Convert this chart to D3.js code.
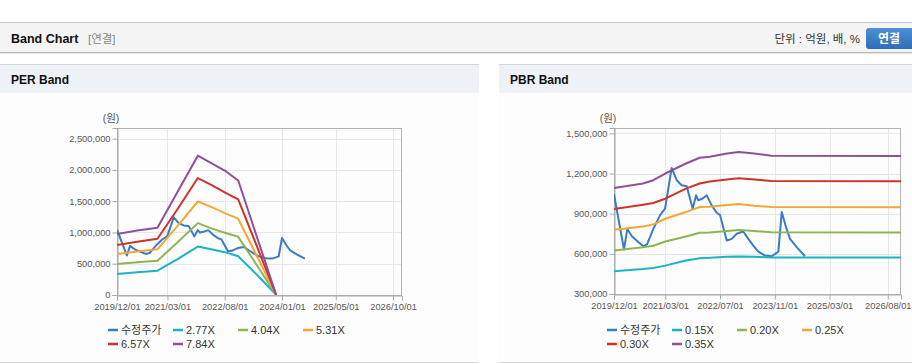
<!DOCTYPE html>
<html>
<head>
<meta charset="utf-8">
<script src="https://cdn.jsdelivr.net/npm/d3@7/dist/d3.min.js"></script>
<style>
  body { margin: 0; background: #fff; }
  svg { display: block; font-family: "Liberation Sans", Arial, "Noto Sans CJK KR", sans-serif; }
</style>
</head>
<body>
<div id="chart"></div>
<script>
// Adjusted price (shared by both charts)
var priceDates = ["2019-12-01", "2020-02-28", "2020-03-28", "2020-05-10", "2020-07-01", "2020-08-18",
  "2020-09-20", "2020-11-15", "2021-01-13", "2021-02-27", "2021-04-27", "2021-06-11", "2021-07-25",
  "2021-09-08", "2021-10-31", "2021-11-30", "2021-12-20", "2022-01-20", "2022-03-05", "2022-04-18",
  "2022-06-02", "2022-07-01", "2022-08-30", "2022-10-13", "2022-11-27", "2023-01-24", "2023-03-10",
  "2023-04-23", "2023-06-07", "2023-08-05", "2023-10-04", "2023-12-02", "2024-01-01", "2024-02-08",
  "2024-03-15", "2024-05-13", "2024-07-26"];
var priceValues = [1045000, 632000, 785000, 730000, 690000, 657000,
  670000, 787000, 887000, 937000, 1242000, 1150000, 1112000,
  1105000, 937000, 1037000, 1000000, 1010000, 1037000, 962000,
  907000, 890000, 700000, 712000, 750000, 767000, 712000,
  662000, 617000, 587000, 582000, 617000, 912000, 800000,
  712000, 650000, 582000];

// PER band
var perBandDates = ["2019-12-01", "2020-06-01", "2020-12-01", "2021-06-01", "2021-12-01",
  "2022-04-01", "2022-08-01", "2022-12-01", "2023-06-01", "2023-11-10"];
var per277 = [337000, 362000, 388000, 575000, 774000, 730000, 685000, 620000, 300000, 0];
var per404 = [497000, 523000, 548000, 842000, 1149000, 1065000, 995000, 930000, 440000, 0];
var per531 = [657000, 695000, 730000, 1104000, 1495000, 1410000, 1310000, 1220000, 575000, 0];
var per657 = [801000, 850000, 900000, 1374000, 1870000, 1760000, 1640000, 1530000, 720000, 0];
var per784 = [977000, 1030000, 1075000, 1650000, 2228000, 2110000, 1990000, 1830000, 860000, 0];
var perNames = ["수정주가", "2.77X", "4.04X", "5.31X", "6.57X", "7.84X"];
var perTicksY = [0, 500000, 1000000, 1500000, 2000000, 2500000];
var perTicksX = ["2019-12-01", "2021-03-01", "2022-08-01", "2024-01-01", "2025-05-01", "2026-10-01"];

// PBR band
var pbrBandDates = ["2019-12-01", "2020-08-15", "2020-11-15", "2021-03-01", "2021-09-01", "2022-01-01",
  "2022-04-01", "2022-09-01", "2022-12-15", "2023-05-01", "2023-10-01", "2026-11-27"];
var pbr015 = [470000, 487000, 495000, 512000, 550000, 567000, 570000, 578000, 580000, 578000, 573000, 572000];
var pbr020 = [625000, 650000, 660000, 692000, 730000, 757000, 760000, 770000, 778000, 770000, 762000, 760000];
var pbr025 = [780000, 805000, 820000, 862000, 912000, 950000, 952000, 965000, 972000, 960000, 950000, 948000];
var pbr030 = [935000, 967000, 980000, 1012000, 1087000, 1125000, 1140000, 1155000, 1165000, 1155000, 1145000, 1143000];
var pbr035 = [1092000, 1125000, 1150000, 1200000, 1275000, 1318000, 1325000, 1350000, 1360000, 1350000, 1332000, 1330000];
var pbrNames = ["수정주가", "0.15X", "0.20X", "0.25X", "0.30X", "0.35X"];
var pbrTicksY = [300000, 600000, 900000, 1200000, 1500000];
var pbrTicksX = ["2019-12-01", "2021-03-01", "2022-07-01", "2023-11-01", "2025-03-01", "2026-08-01"];

var seriesColors = ["#3a7bc8", "#1bb3c8", "#8db553", "#f5a733", "#cf3229", "#8f4f9b"];

var parseDate = d3.timeParse("%Y-%m-%d");
var formatDate = d3.timeFormat("%Y/%m/%d");

function toPoints(dates, values) {
  return dates.map(function(d, i) { return { date: parseDate(d), value: values[i] }; });
}

var svg = d3.select("#chart")
  .append("svg")
  .attr("width", 912)
  .attr("height", 364);

// Top header bar
svg.append("rect").attr("x", 0).attr("y", 22).attr("width", 912).attr("height", 31).attr("fill", "#f4f4f4");
svg.append("line").attr("x1", 0).attr("x2", 912).attr("y1", 22.5).attr("y2", 22.5).attr("stroke", "#c6c6c6");
svg.append("line").attr("x1", 0).attr("x2", 912).attr("y1", 52.5).attr("y2", 52.5).attr("stroke", "#b8b8b8");
svg.append("line").attr("x1", 0).attr("x2", 912).attr("y1", 53.5).attr("y2", 53.5).attr("stroke", "#e6e6e6");

svg.append("text").attr("x", 11).attr("y", 43)
  .attr("font-size", "12.5px").attr("font-weight", "bold").attr("fill", "#111")
  .text("Band Chart");
svg.append("text").attr("x", 88).attr("y", 43)
  .attr("font-size", "11.5px").attr("fill", "#888")
  .text("[연결]");
svg.append("text").attr("x", 860).attr("y", 43).attr("text-anchor", "end")
  .attr("font-size", "11.5px").attr("fill", "#333")
  .text("단위 : 억원, 배, %");

var grad = svg.append("defs").append("linearGradient")
  .attr("id", "btnGrad").attr("x1", 0).attr("x2", 0).attr("y1", 0).attr("y2", 1);
grad.append("stop").attr("offset", "0%").attr("stop-color", "#4d8fd6");
grad.append("stop").attr("offset", "100%").attr("stop-color", "#2f6db5");
svg.append("rect").attr("x", 866).attr("y", 28).attr("width", 52).attr("height", 21).attr("rx", 3)
  .attr("fill", "url(#btnGrad)");
svg.append("text").attr("x", 889).attr("y", 43).attr("text-anchor", "middle")
  .attr("font-size", "12px").attr("font-weight", "bold").attr("fill", "#fff")
  .text("연결");

// Panel frames
function drawPanel(x0, w, title) {
  svg.append("rect").attr("x", x0).attr("y", 93).attr("width", w).attr("height", 269).attr("fill", "#fdfdfd");
  svg.append("rect").attr("x", x0).attr("y", 64).attr("width", w).attr("height", 29).attr("fill", "#eef2f7");
  svg.append("line").attr("x1", x0).attr("x2", x0 + w).attr("y1", 64.5).attr("y2", 64.5).attr("stroke", "#d6d6d6");
  svg.append("line").attr("x1", x0).attr("x2", x0 + w).attr("y1", 362.5).attr("y2", 362.5).attr("stroke", "#d6d6d6");
  svg.append("text").attr("x", x0 + 11).attr("y", 84)
    .attr("font-size", "12px").attr("font-weight", "bold").attr("fill", "#111")
    .text(title);
}
drawPanel(0, 479, "PER Band");
drawPanel(499, 413, "PBR Band");

// Generic band chart
function drawBand(opt) {
  var x = d3.scaleTime().domain(opt.xDomain.map(parseDate)).range([opt.left, opt.right]);
  var y = d3.scaleLinear().domain(opt.yDomain).range([opt.bottom, opt.top]);
  var g = svg.append("g");

  g.append("clipPath").attr("id", opt.id + "clip")
    .append("rect").attr("x", opt.left).attr("y", opt.top)
    .attr("width", opt.right - opt.left).attr("height", opt.bottom - opt.top);

  // gridlines
  g.selectAll(".hgrid").data(opt.ticksY).enter().append("line")
    .attr("x1", opt.left).attr("x2", opt.right)
    .attr("y1", d => Math.round(y(d)) + 0.5).attr("y2", d => Math.round(y(d)) + 0.5)
    .attr("stroke", "#e6e6e6");
  g.selectAll(".vgrid").data(opt.ticksX.map(parseDate)).enter().append("line")
    .attr("y1", opt.top).attr("y2", opt.bottom)
    .attr("x1", d => Math.round(x(d)) + 0.5).attr("x2", d => Math.round(x(d)) + 0.5)
    .attr("stroke", "#e6e6e6");

  // plot border
  g.append("rect").attr("x", opt.left + 0.5).attr("y", opt.top + 0.5)
    .attr("width", opt.right - opt.left - 1).attr("height", opt.bottom - opt.top)
    .attr("fill", "none").attr("stroke", "#b4b4b4");

  // axes
  var leftAxis = d3.axisLeft(y).tickValues(opt.ticksY).tickFormat(d3.format(",")).tickSize(5).tickPadding(2);
  var bottomAxis = d3.axisBottom(x).tickValues(opt.ticksX.map(parseDate)).tickFormat(formatDate).tickSize(5).tickPadding(3);
  var ya = g.append("g").attr("transform", `translate(${opt.left + 0.5},0)`).call(leftAxis);
  var xa = g.append("g").attr("transform", `translate(0,${opt.bottom + 0.5})`).call(bottomAxis);
  [ya, xa].forEach(function(a) {
    a.select(".domain").attr("stroke", "#a8a8a8");
    a.selectAll(".tick line").attr("stroke", "#a8a8a8");
    a.selectAll(".tick text").attr("fill", "#555").attr("font-size", "9.3px")
      .attr("font-family", "\"Liberation Sans\", Arial, sans-serif");
  });

  g.append("text").attr("x", opt.left - 6).attr("y", opt.top - 6).attr("text-anchor", "middle")
    .attr("font-size", "10.5px").attr("fill", "#555").text("(원)");

  // lines
  var line = d3.line().x(d => x(d.date)).y(d => y(d.value));
  var lines = g.append("g").attr("clip-path", `url(#${opt.id}clip)`);
  opt.series.forEach(function(s, i) {
    lines.append("path")
      .datum(s)
      .attr("d", line)
      .attr("fill", "none")
      .attr("stroke", seriesColors[i])
      .attr("stroke-width", 2)
      .attr("stroke-linejoin", "round");
  });

  // legend
  var legend = g.selectAll(".legend").data(opt.names).enter().append("g")
    .attr("transform", (d, i) => `translate(${opt.legendX + (i % 4) * 65},${330 + Math.floor(i / 4) * 14})`);
  legend.append("line").attr("x1", 0).attr("x2", 10).attr("y1", 0).attr("y2", 0)
    .attr("stroke", (d, i) => seriesColors[i]).attr("stroke-width", 2.5);
  legend.append("text").attr("x", 13).attr("y", 4)
    .attr("font-size", "11px").attr("fill", "#333").text(d => d);
}

var priceLine = toPoints(priceDates, priceValues);

drawBand({
  id: "per",
  left: 117, right: 402, top: 128, bottom: 295,
  xDomain: ["2019-12-01", "2026-12-21"],
  yDomain: [0, 2670000],
  ticksY: perTicksY,
  ticksX: perTicksX,
  names: perNames,
  legendX: 108,
  series: [priceLine,
    toPoints(perBandDates, per277), toPoints(perBandDates, per404), toPoints(perBandDates, per531),
    toPoints(perBandDates, per657), toPoints(perBandDates, per784)]
});

drawBand({
  id: "pbr",
  left: 614, right: 901, top: 128, bottom: 294,
  xDomain: ["2019-12-01", "2026-11-27"],
  yDomain: [300000, 1540000],
  ticksY: pbrTicksY,
  ticksX: pbrTicksX,
  names: pbrNames,
  legendX: 607,
  series: [priceLine,
    toPoints(pbrBandDates, pbr015), toPoints(pbrBandDates, pbr020), toPoints(pbrBandDates, pbr025),
    toPoints(pbrBandDates, pbr030), toPoints(pbrBandDates, pbr035)]
});
</script>
</body>
</html>
